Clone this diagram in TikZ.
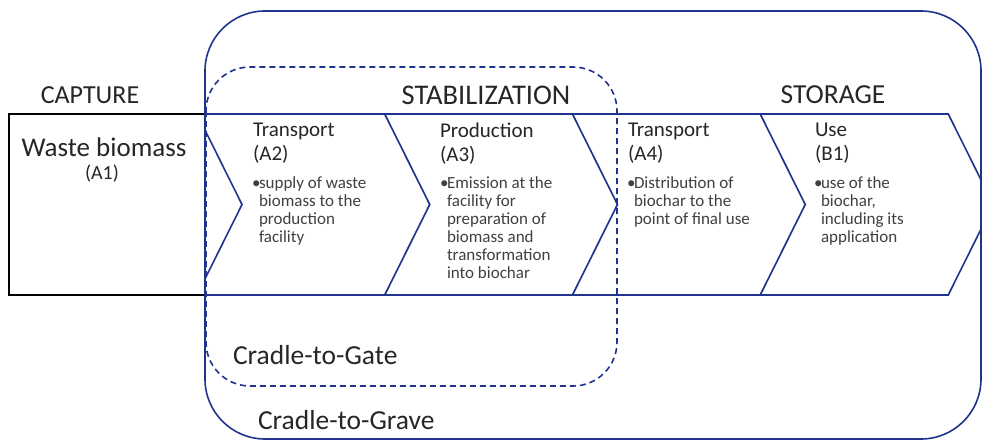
\documentclass[tikz,border=0pt]{standalone}
\usepackage{fontspec}
\setmainfont{Carlito}
\usepackage{tikz}

\definecolor{lcablue}{RGB}{32,52,142}
\newcommand{\bul}{\makebox[7pt][l]{\textbullet}}
\newcommand{\ind}{\hspace*{7pt}}

\begin{document}
\begin{tikzpicture}[x=1pt, y=-1pt]
	\tikzstyle{every node}=[inner sep=0pt, outer sep=0pt, text=black!85];
	\tikzstyle{stage}=[draw=lcablue, fill=white, line width=1.6pt, line join=miter];
	\tikzstyle{phase}=[font=\fontsize{26}{30}\selectfont];
	\tikzstyle{title}=[anchor=north west, align=left, font=\fontsize{21}{24}\selectfont];
	\tikzstyle{bullets}=[anchor=north west, align=left, font=\fontsize{17}{18}\selectfont, text=black!75];
	\tikzstyle{system}=[lcablue, line width=1.6pt];
	\tikzstyle{boundary}=[anchor=west, font=\fontsize{27.5}{30}\selectfont];
	
	\useasboundingbox (0,0) rectangle (982,441);
	
	%Stages
	\foreach \i in {0,...,3}
		\draw[stage] ({197+187.75*\i},114) -- ++(188,0) -- ++(45,90.5) -- ++(-45,90.5) -- ++(-188,0) -- ++(45,-90.5) -- cycle;
	\draw[black, line width=1.6pt, fill=white] (9,114) rectangle (205,295);
	
	%Phases
	\node[phase] (capture) at (90,95) {CAPTURE};
	\node[phase, font=\fontsize{28.5}{30}\selectfont] (stabilization) at (486,95) {STABILIZATION};
	\node[phase, font=\fontsize{27.5}{30}\selectfont] (storage) at (833,95) {STORAGE};
	
	%Waste biomass
	\node[font=\fontsize{27}{30}\selectfont] (wastebio) at (104,147) {Waste biomass};
	\node[font=\fontsize{20}{24}\selectfont] (a1) at (102,174) {(A1)};
	
	%Transport
	\node[title] (a2) at (253,123) {Transport\\(A2)};
	\node[bullets] (a2txt) at (252,177) {\bul supply of waste\\\ind biomass to the\\\ind production\\\ind facility};
	
	%Production
	\node[title] (a3) at (440,123) {Production\\(A3)};
	\node[bullets] (a3txt) at (440,177) {\bul Emission at the\\\ind facility for\\\ind preparation of\\\ind biomass and\\\ind transformation\\\ind into biochar};
	
	%Transport
	\node[title] (a4) at (628,123) {Transport\\(A4)};
	\node[bullets] (a4txt) at (627,177) {\bul Distribution of\\\ind biochar to the\\\ind point of final use};
	
	%Use
	\node[title] (b1) at (815,123) {Use\\(B1)};
	\node[bullets] (b1txt) at (814,177) {\bul use of the\\\ind biochar,\\\ind including its\\\ind application};
	
	%System boundaries
	\draw[system, rounded corners=60pt] (205,11) rectangle (981,439);
	\draw[system, dashed, dash pattern=on 6pt off 4pt, rounded corners=44pt] (206,67) rectangle (617,386);
	\node[boundary] (gate) at (233,355) {Cradle-to-Gate};
	\node[boundary] (grave) at (258,420) {Cradle-to-Grave};
\end{tikzpicture}
\end{document}
